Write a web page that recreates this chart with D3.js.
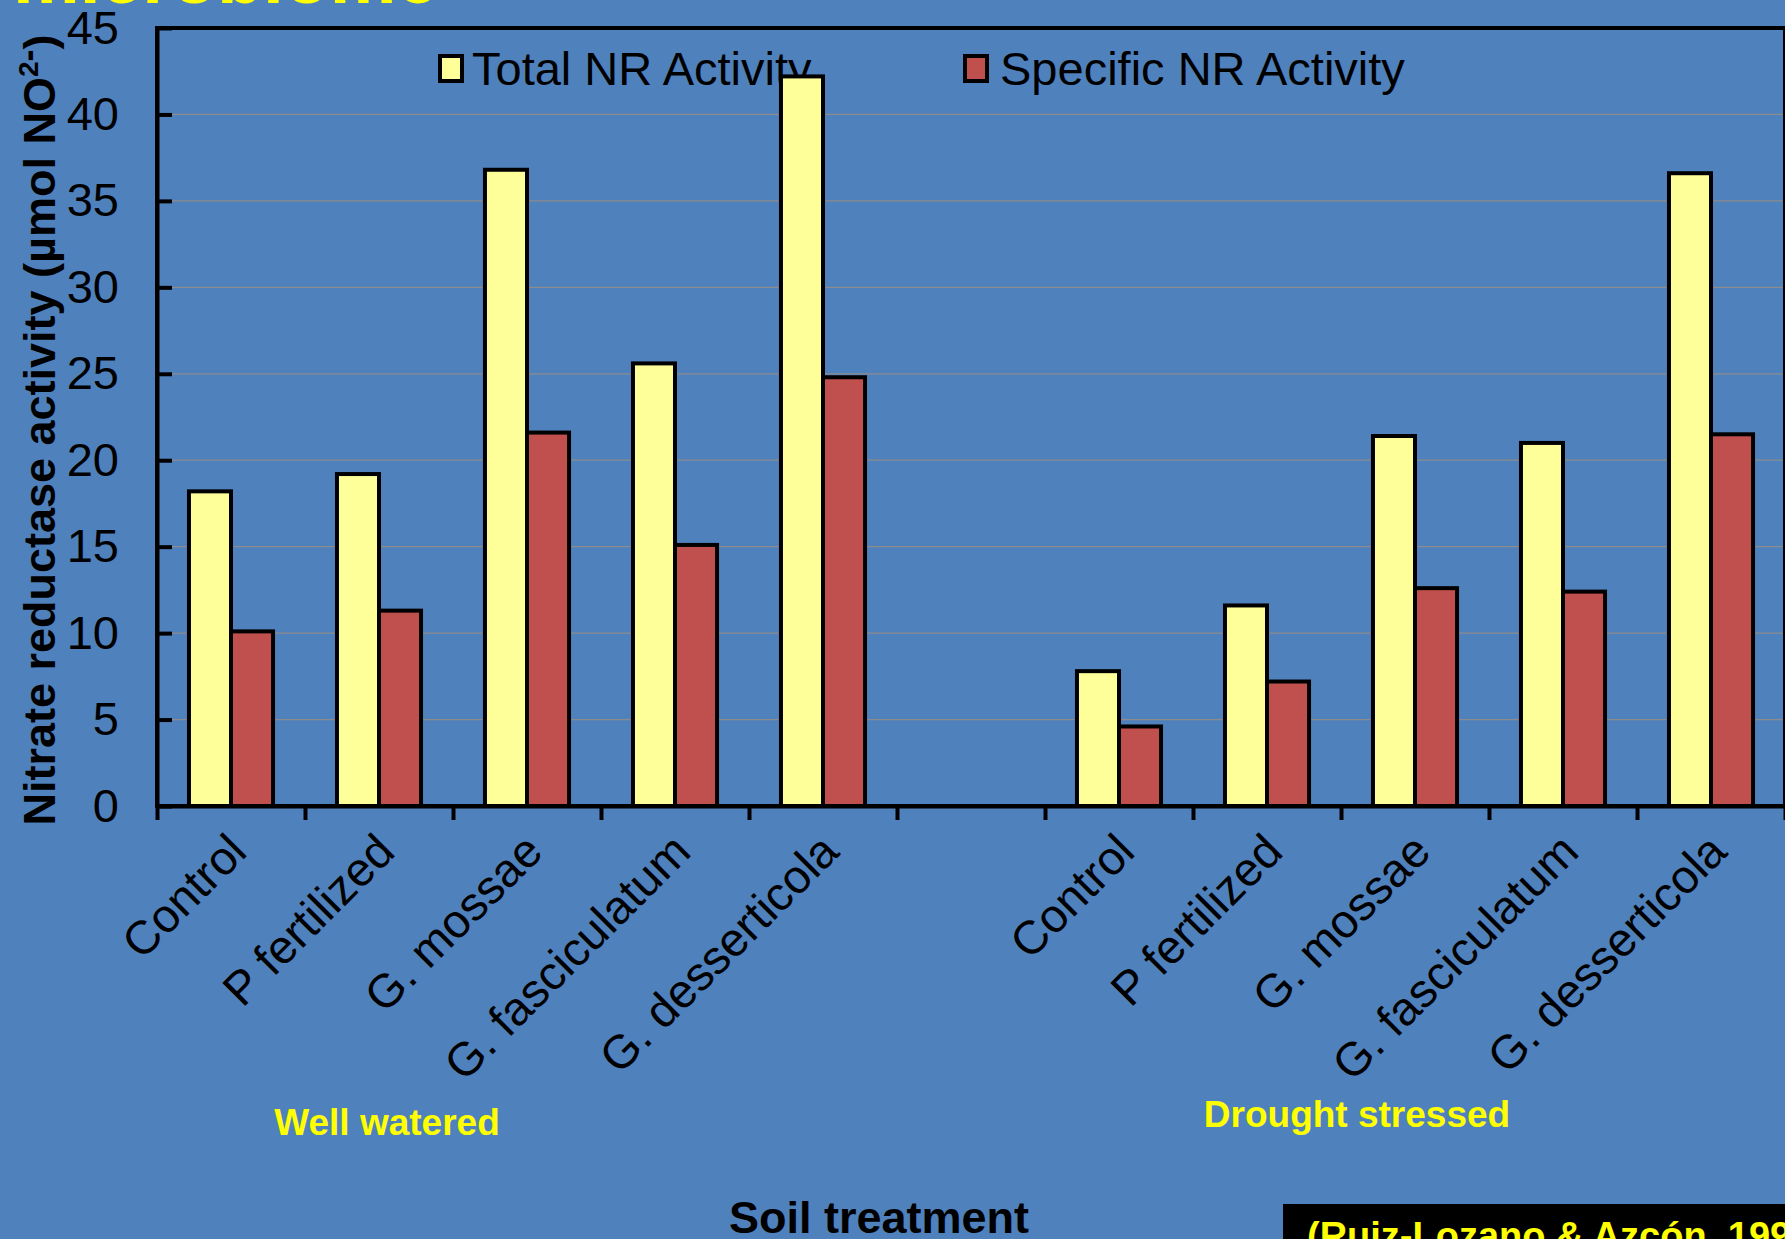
<!DOCTYPE html>
<html>
<head>
<meta charset="utf-8">
<script src="https://cdn.jsdelivr.net/npm/d3@7"></script>
<style>
  html, body { margin: 0; padding: 0; background: #4f81bd; overflow: hidden; }
  svg { display: block; }
  text { font-family: "Liberation Sans", Arial, sans-serif; }
</style>
</head>
<body>
<svg id="chart" width="1785" height="1239"></svg>
<script>
// Treatments within each watering regime
const categories = ["Control", "P fertilized", "G. mossae", "G. fasciculatum", "G. desserticola"];
const regimes = ["Well watered", "Drought stressed"];
const seriesNames = ["Total NR Activity", "Specific NR Activity"];

// Nitrate reductase activity (µmol NO2-)
const totalWellWatered    = [18.2, 19.2, 36.8, 25.6, 42.2];
const specificWellWatered = [10.1, 11.3, 21.6, 15.1, 24.8];
const totalDrought        = [7.8, 11.6, 21.4, 21.0, 36.6];
const specificDrought     = [4.6, 7.2, 12.6, 12.4, 21.5];

const yTicks = [0, 5, 10, 15, 20, 25, 30, 35, 40, 45];

const colors = { "Total NR Activity": "#ffff99", "Specific NR Activity": "#c0504d" };

const W = 1785, H = 1239;
const plot = { left: 157, right: 1785, top: 28, bottom: 806 };

const svg = d3.select("#chart");

// Slot keys: five well-watered treatments, an empty slot, five drought treatments
const slots = [
  ...categories.map((c, i) => "ww" + i),
  "gap",
  ...categories.map((c, i) => "ds" + i)
];

const rows = [];
categories.forEach((c, i) => {
  rows.push({ slot: "ww" + i, label: c, values: [totalWellWatered[i], specificWellWatered[i]] });
});
categories.forEach((c, i) => {
  rows.push({ slot: "ds" + i, label: c, values: [totalDrought[i], specificDrought[i]] });
});

const x = d3.scaleBand().domain(slots).range([plot.left, plot.right]).padding(0);
const step = x.bandwidth();
const xs = d3.scaleBand().domain(seriesNames).range([step * 0.216, step * 0.784]).padding(0);
const y = d3.scaleLinear().domain([0, 45]).range([plot.bottom, plot.top]);

// Title strip at the very top of the slide
svg.append("text")
  .attr("x", 13).attr("y", 3)
  .attr("fill", "#ffff00")
  .attr("font-weight", "bold")
  .attr("font-size", 75)
  .text("microbiome");

// Gridlines
svg.append("g")
  .selectAll("line")
  .data(yTicks.filter(t => t > 0 && t < 45))
  .join("line")
  .attr("x1", plot.left).attr("x2", plot.right)
  .attr("y1", d => y(d)).attr("y2", d => y(d))
  .attr("stroke", "#8c8c8c")
  .attr("stroke-width", 1.2);

// Legend (drawn beneath the bars)
const legendItems = [
  { name: seriesNames[0], sx: 440, tx: 472 },
  { name: seriesNames[1], sx: 965, tx: 1000 }
];
const legend = svg.append("g");
legendItems.forEach(d => {
  legend.append("rect")
    .attr("x", d.sx).attr("y", 56).attr("width", 22).attr("height", 25)
    .attr("fill", colors[d.name]).attr("stroke", "#000").attr("stroke-width", 4);
  legend.append("text")
    .attr("x", d.tx).attr("y", 85)
    .attr("font-size", 47)
    .attr("fill", "#000")
    .text(d.name);
});

// Bars
const groups = svg.append("g")
  .selectAll("g")
  .data(rows)
  .join("g")
  .attr("transform", d => `translate(${x(d.slot)},0)`);

groups.selectAll("rect")
  .data(d => d.values.map((v, k) => ({ series: seriesNames[k], value: v })))
  .join("rect")
  .attr("x", d => xs(d.series))
  .attr("width", xs.bandwidth())
  .attr("y", d => y(d.value))
  .attr("height", d => y(0) - y(d.value))
  .attr("fill", d => colors[d.series])
  .attr("stroke", "#000")
  .attr("stroke-width", 4);

// Plot frame
svg.append("rect")
  .attr("x", plot.left).attr("y", plot.top)
  .attr("width", plot.right - plot.left).attr("height", plot.bottom - plot.top)
  .attr("fill", "none").attr("stroke", "#000").attr("stroke-width", 4);

// Y axis with inward ticks
const yAxis = svg.append("g")
  .attr("transform", `translate(${plot.left},0)`)
  .call(d3.axisLeft(y).tickValues(yTicks).tickSizeInner(-15).tickSizeOuter(0).tickPadding(38));
yAxis.select(".domain").attr("stroke", "#000").attr("stroke-width", 4);
yAxis.selectAll(".tick line").attr("stroke", "#000").attr("stroke-width", 4);
yAxis.selectAll(".tick text")
  .attr("font-size", 47)
  .attr("font-family", "Liberation Sans, Arial, sans-serif")
  .attr("fill", "#000");

// X axis: ticks at slot boundaries
const xEdge = d3.scaleLinear().domain([0, slots.length]).range([plot.left, plot.right]);
const xAxis = svg.append("g")
  .attr("transform", `translate(0,${plot.bottom})`)
  .call(d3.axisBottom(xEdge).tickValues(d3.range(slots.length + 1)).tickFormat("").tickSizeInner(14).tickSizeOuter(0));
xAxis.select(".domain").attr("stroke", "#000").attr("stroke-width", 4);
xAxis.selectAll(".tick line").attr("stroke", "#000").attr("stroke-width", 4);

// Rotated category labels
svg.append("g")
  .selectAll("text")
  .data(rows)
  .join("text")
  .attr("transform", d => `translate(${x(d.slot) + step / 2 + 18},${plot.bottom + 48}) rotate(-45)`)
  .attr("text-anchor", "end")
  .attr("font-size", 47)
  .attr("fill", "#000")
  .text(d => d.label);

// Regime labels
svg.append("g")
  .selectAll("text")
  .data(regimes)
  .join("text")
  .attr("x", (d, i) => [387, 1357][i])
  .attr("y", (d, i) => [1135, 1127][i])
  .attr("text-anchor", "middle")
  .attr("font-weight", "bold")
  .attr("font-size", 37)
  .attr("fill", "#ffff00")
  .text(d => d);

// Axis titles
svg.append("text")
  .attr("x", 879).attr("y", 1233)
  .attr("text-anchor", "middle")
  .attr("font-weight", "bold")
  .attr("font-size", 45)
  .attr("fill", "#000")
  .text("Soil treatment");

const yTitle = svg.append("text")
  .attr("transform", `translate(55,${430}) rotate(-90)`)
  .attr("text-anchor", "middle")
  .attr("font-weight", "bold")
  .attr("font-size", 45)
  .attr("fill", "#000");
yTitle.append("tspan").text("Nitrate reductase activity (µmol NO");
yTitle.append("tspan").attr("font-size", 28).attr("dy", -17).text("2");
yTitle.append("tspan").attr("font-size", 36).attr("dy", 2).text("-");
yTitle.append("tspan").attr("dy", 15).text(")");

// Citation box
svg.append("rect")
  .attr("x", 1283).attr("y", 1204).attr("width", W - 1283).attr("height", H - 1204)
  .attr("fill", "#000");
svg.append("text")
  .attr("x", 1307).attr("y", 1249)
  .attr("font-weight", "bold")
  .attr("font-size", 38)
  .attr("fill", "#ffff00")
  .text("(Ruiz-Lozano & Azcón, 1996)");
</script>
</body>
</html>
